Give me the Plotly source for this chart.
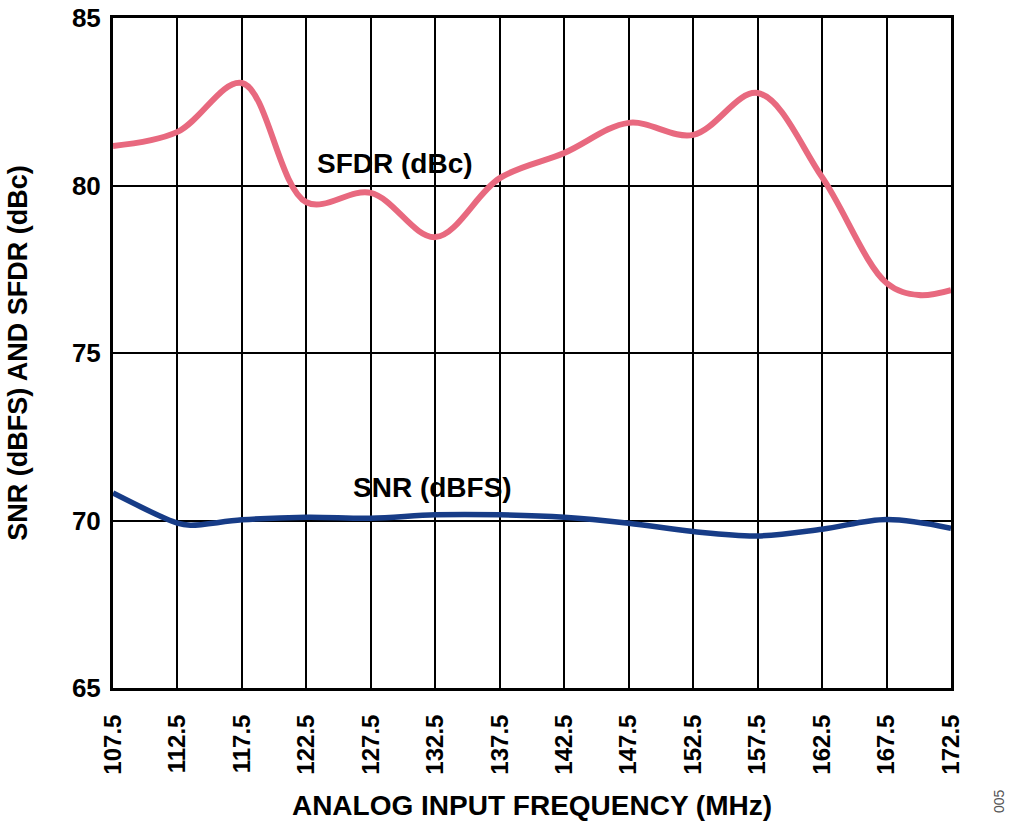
import plotly.graph_objects as go

# frequency points (MHz)
freq = [107.5, 112.5, 117.5, 122.5, 127.5, 132.5, 137.5, 142.5, 147.5, 152.5, 157.5, 162.5, 167.5, 170.0, 172.5]
sfdr = [81.18, 81.6, 83.06, 79.5, 79.78, 78.46, 80.22, 80.97, 81.87, 81.51, 82.76, 80.25, 77.09, 76.73, 76.88]
snr_freq = [107.5, 112.5, 113.5, 117.5, 122.5, 127.5, 132.5, 137.5, 142.5, 147.5, 152.5, 157.5, 162.5, 167.5, 172.5]
snr = [70.82, 69.92, 69.86, 70.02, 70.1, 70.07, 70.17, 70.17, 70.1, 69.92, 69.67, 69.54, 69.74, 70.03, 69.77]

x_ticks = [107.5 + 5 * i for i in range(14)]
y_ticks = [65, 70, 75, 80, 85]

font = "Liberation Sans, Arial, sans-serif"

fig = go.Figure()
fig.add_trace(go.Scatter(x=freq, y=sfdr, mode="lines",
                         line=dict(color="#E8697F", width=6, shape="spline", smoothing=1.0)))
fig.add_trace(go.Scatter(x=snr_freq, y=snr, mode="lines",
                         line=dict(color="#173C87", width=5.5, shape="spline", smoothing=1.0)))

fig.add_annotation(x=129.4, y=80.67, text="<b>SFDR (dBc)</b>", showarrow=False,
                   font=dict(family=font, size=28, color="black"))
fig.add_annotation(x=132.3, y=71.0, text="<b>SNR (dBFS)</b>", showarrow=False,
                   font=dict(family=font, size=28, color="black"))
fig.add_annotation(x=1.07, y=-0.19, xref="paper", yref="paper", text="005", textangle=-90,
                   showarrow=False, font=dict(family=font, size=14, color="#555555"))

fig.update_layout(
    width=1024, height=829,
    margin=dict(l=113, r=73, t=18, b=141),
    plot_bgcolor="white", paper_bgcolor="white",
    showlegend=False,
    font=dict(family=font, color="black"),
)
fig.update_xaxes(range=[107.5, 172.5], tickvals=x_ticks, ticktext=[f"<b>{v}</b>" for v in x_ticks],
                 tickangle=-90, tickfont=dict(size=24), ticklabelstandoff=14, automargin=False,
                 showgrid=True, gridcolor="black", gridwidth=2,
                 showline=True, linecolor="black", linewidth=3, mirror=True, ticks="", zeroline=False,
                 title=dict(text="<b>ANALOG INPUT FREQUENCY (MHz)</b>", font=dict(size=28), standoff=22))
fig.update_yaxes(range=[65, 85], tickvals=y_ticks, ticktext=[f"<b>{v}</b>" for v in y_ticks],
                 tickfont=dict(size=26), ticklabelstandoff=4, ticklabeloverflow="allow", automargin=False,
                 showgrid=True, gridcolor="black", gridwidth=2,
                 showline=True, linecolor="black", linewidth=3, mirror=True, ticks="", zeroline=False,
                 title=dict(text="<b>SNR (dBFS) AND SFDR (dBc)</b>", font=dict(size=27), standoff=37))

# drop the default body margin so the figure sits at the page corner
fig.write_html("out.html", config={"displayModeBar": False},
               post_script="document.body.style.margin='0';")
